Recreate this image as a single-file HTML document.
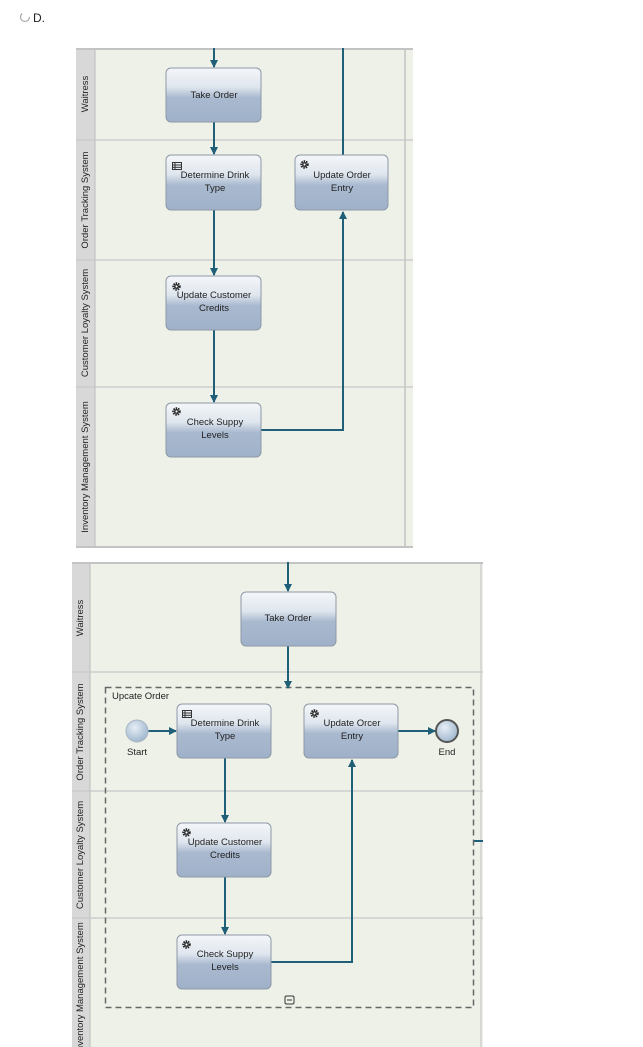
<!DOCTYPE html>
<html><head><style>
html,body{margin:0;padding:0;background:#fff;width:643px;height:1047px;overflow:hidden}
svg{display:block}
text{font-family:"Liberation Sans",sans-serif;fill:#222}
</style></head><body>
<svg width="643" height="1047" viewBox="0 0 643 1047" xmlns="http://www.w3.org/2000/svg">
<defs>
<linearGradient id="g" x1="0" y1="0" x2="0" y2="1">
<stop offset="0" stop-color="#f4f6f9"/><stop offset="0.35" stop-color="#dfe6ee"/><stop offset="0.55" stop-color="#a9b9cf"/><stop offset="1" stop-color="#9fb1c9"/></linearGradient>
<radialGradient id="c" cx="0.4" cy="0.35" r="0.7"><stop offset="0" stop-color="#e6eef6"/><stop offset="1" stop-color="#9db4cc"/></radialGradient>
<marker id="a" markerWidth="8" markerHeight="8" refX="7" refY="4" orient="auto" markerUnits="userSpaceOnUse"><path d="M0,0 L8,4 L0,8 z" fill="#1f5f78"/></marker>
<symbol id="gear" viewBox="0 0 10 10"><circle cx="5" cy="5" r="3.6" fill="none" stroke="#222" stroke-width="2.2" stroke-dasharray="1.6 1"/><circle cx="5" cy="5" r="2.6" fill="#222"/><circle cx="5" cy="5" r="1.2" fill="#fff"/></symbol>
<symbol id="tbl" viewBox="0 0 10 8"><rect x="0.5" y="0.5" width="9" height="7" fill="none" stroke="#333"/><line x1="0.5" y1="3" x2="9.5" y2="3" stroke="#333"/><line x1="0.5" y1="5.3" x2="9.5" y2="5.3" stroke="#333"/><line x1="3" y1="0.5" x2="3" y2="7.5" stroke="#333"/></symbol>
</defs>

<!-- header -->
<circle cx="25" cy="17" r="4.5" fill="none" stroke="#aaa" stroke-width="1.2" stroke-dasharray="18 10"/>
<text x="33" y="22" font-size="12" fill="#333">D.</text>

<!-- TOP DIAGRAM -->
<rect x="76" y="48" width="337" height="500" fill="#eef1e8"/>
<rect x="76" y="48" width="19" height="500" fill="#d8d8d8"/>
<line x1="95" y1="48" x2="95" y2="548" stroke="#bbb"/>
<line x1="405" y1="48" x2="405" y2="548" stroke="#c3c3c3" stroke-width="1.5"/>
<line x1="76" y1="49" x2="413" y2="49" stroke="#c3c3c3" stroke-width="2"/>
<line x1="76" y1="547" x2="413" y2="547" stroke="#c3c3c3" stroke-width="2"/>
<g stroke="#c8c8c8" stroke-width="1.2"><line x1="76" y1="140" x2="413" y2="140"/><line x1="76" y1="260" x2="413" y2="260"/><line x1="76" y1="387" x2="413" y2="387"/></g>
<g font-size="9.5" fill="#333" text-anchor="middle">
<text transform="translate(88,94) rotate(-90)">Waitress</text>
<text transform="translate(88,200) rotate(-90)">Order Tracking System</text>
<text transform="translate(88,323) rotate(-90)">Customer Loyalty System</text>
<text transform="translate(88,467) rotate(-90)">Inventory Management System</text>
</g>
<g stroke="#1f5f78" stroke-width="2" fill="none">
<line x1="214" y1="48" x2="214" y2="67" marker-end="url(#a)"/>
<line x1="214" y1="122" x2="214" y2="154" marker-end="url(#a)"/>
<line x1="214" y1="210" x2="214" y2="275" marker-end="url(#a)"/>
<line x1="214" y1="330" x2="214" y2="402" marker-end="url(#a)"/>
<line x1="343" y1="48" x2="343" y2="155"/>
<polyline points="261,430 343,430 343,212" marker-end="url(#a)"/>
</g>
<g stroke="#8d98a6" stroke-width="1" fill="url(#g)">
<rect x="166" y="68" width="95" height="54" rx="5"/>
<rect x="166" y="155" width="95" height="55" rx="5"/>
<rect x="295" y="155" width="93" height="55" rx="5"/>
<rect x="166" y="276" width="95" height="54" rx="5"/>
<rect x="166" y="403" width="95" height="54" rx="5"/>
</g>
<use href="#tbl" x="172" y="162" width="10" height="8"/>
<use href="#gear" x="300" y="160" width="9" height="9"/>
<use href="#gear" x="172" y="282" width="9" height="9"/>
<use href="#gear" x="172" y="407" width="9" height="9"/>
<g font-size="9.5" text-anchor="middle">
<text x="214" y="98">Take Order</text>
<text x="215" y="178">Determine Drink</text><text x="215" y="191">Type</text>
<text x="342" y="178">Update Order</text><text x="342" y="191">Entry</text>
<text x="214" y="298">Update Customer</text><text x="214" y="311">Credits</text>
<text x="215" y="425">Check Suppy</text><text x="215" y="438">Levels</text>
</g>

<!-- BOTTOM DIAGRAM -->
<rect x="72" y="562" width="411" height="485" fill="#eef1e8"/>
<rect x="72" y="562" width="18" height="485" fill="#d8d8d8"/>
<line x1="90" y1="562" x2="90" y2="1047" stroke="#bbb"/>
<line x1="481" y1="562" x2="481" y2="1047" stroke="#d0d0d0" stroke-width="1.5"/>
<line x1="72" y1="563" x2="483" y2="563" stroke="#c3c3c3" stroke-width="2"/>
<g stroke="#c8c8c8" stroke-width="1.2"><line x1="72" y1="672" x2="483" y2="672"/><line x1="72" y1="791" x2="483" y2="791"/><line x1="72" y1="918" x2="483" y2="918"/></g>
<g font-size="9.5" fill="#333" text-anchor="middle">
<text transform="translate(83,618) rotate(-90)">Waitress</text>
<text transform="translate(83,732) rotate(-90)">Order Tracking System</text>
<text transform="translate(83,855) rotate(-90)">Customer Loyalty System</text>
<text transform="translate(83,988) rotate(-90)">Inventory Management System</text>
</g>
<rect x="105.5" y="687.5" width="368" height="320" fill="none" stroke="#666" stroke-width="1.5" stroke-dasharray="6 4"/>
<line x1="474" y1="841" x2="483" y2="841" stroke="#1f5f78" stroke-width="2"/>
<text x="112" y="699" font-size="9.5">Upcate Order</text>
<rect x="285" y="996" width="9" height="8" rx="1.5" fill="none" stroke="#333"/><line x1="287" y1="1000" x2="292" y2="1000" stroke="#333"/>
<g stroke="#1f5f78" stroke-width="2" fill="none">
<line x1="288" y1="562" x2="288" y2="591" marker-end="url(#a)"/>
<line x1="288" y1="646" x2="288" y2="688" marker-end="url(#a)"/>
<line x1="148" y1="731" x2="176" y2="731" marker-end="url(#a)"/>
<line x1="398" y1="731" x2="435" y2="731" marker-end="url(#a)"/>
<line x1="225" y1="758" x2="225" y2="822" marker-end="url(#a)"/>
<line x1="225" y1="877" x2="225" y2="934" marker-end="url(#a)"/>
<polyline points="271,962 352,962 352,760" marker-end="url(#a)"/>
</g>
<circle cx="137" cy="731" r="11" fill="url(#c)" stroke="#a9b6c4"/>
<circle cx="447" cy="731" r="11" fill="url(#c)" stroke="#555" stroke-width="2"/>
<text x="137" y="755" font-size="9.5" text-anchor="middle">Start</text>
<text x="447" y="755" font-size="9.5" text-anchor="middle">End</text>
<g stroke="#8d98a6" stroke-width="1" fill="url(#g)">
<rect x="241" y="592" width="95" height="54" rx="5"/>
<rect x="177" y="704" width="94" height="54" rx="5"/>
<rect x="304" y="704" width="94" height="54" rx="5"/>
<rect x="177" y="823" width="94" height="54" rx="5"/>
<rect x="177" y="935" width="94" height="54" rx="5"/>
</g>
<use href="#tbl" x="182" y="710" width="10" height="8"/>
<use href="#gear" x="310" y="709" width="9" height="9"/>
<use href="#gear" x="182" y="828" width="9" height="9"/>
<use href="#gear" x="182" y="940" width="9" height="9"/>
<g font-size="9.5" text-anchor="middle">
<text x="288" y="621">Take Order</text>
<text x="225" y="726">Determine Drink</text><text x="225" y="739">Type</text>
<text x="352" y="726">Update Orcer</text><text x="352" y="739">Entry</text>
<text x="225" y="845">Update Customer</text><text x="225" y="858">Credits</text>
<text x="225" y="957">Check Suppy</text><text x="225" y="970">Levels</text>
</g>
</svg>
</body></html>
